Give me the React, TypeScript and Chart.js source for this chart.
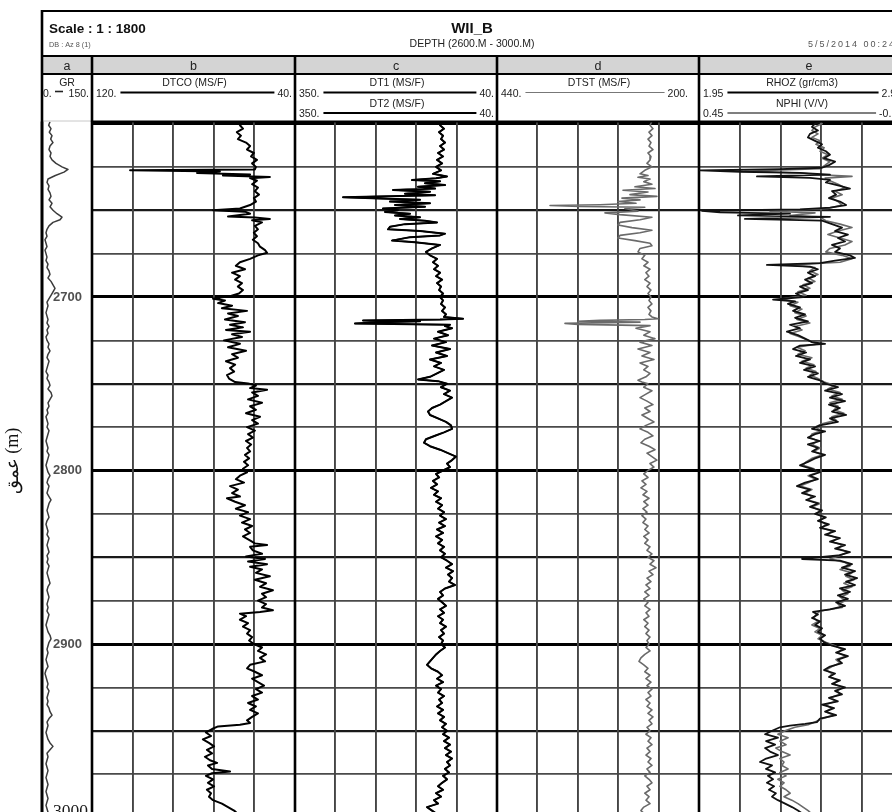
import { useEffect, useRef } from 'react';
import { Chart, registerables } from 'chart.js';

Chart.register(...registerables);

// ---------------- data ----------------
const depthTicks = [2600, 2625, 2650, 2675, 2700, 2725, 2750, 2775, 2800, 2825, 2850, 2875, 2900, 2925, 2950, 2975, 3000];
const depthLabelled = [2700, 2800, 2900];
const depthEndLabel = 3000;
const depthTop = 2598.85;
const depthBottom = 3007.2;

const grRange = [0, 150];
const dtcoRange = [40, 120];
const dtRange = [40, 350];
const dtstRange = [200, 440];
const rhozRange = [1.95, 2.95];
const nphiRange = [-0.15, 0.45];

const dtcoTicks = [120, 104, 88, 72, 56, 40];
const dtTicks = [350, 288, 226, 164, 102, 40];
const dtstTicks = [440, 392, 344, 296, 248, 200];
const rhozTicks = [1.95, 2.15, 2.35, 2.55, 2.75, 2.95];

// [depth (m), value]
const grLog: [number, number][] = [[2599,24],[2601,20],[2603,27],[2605,22],[2607,30],[2609,26],[2611,33],[2613,24],[2615,21],[2617,27],[2619,24],[2621,30],[2623,42],[2625,60],[2626.5,78],[2628,66],[2630,40],[2632,18],[2634,15],[2636,21],[2638,18],[2640,24],[2642,27],[2644,21],[2646,30],[2648,24],[2650,33],[2652,45],[2654,60],[2655.5,54],[2657,33],[2659,21],[2661,15],[2663,12],[2665,15],[2667,9],[2669,12],[2671,15],[2673,9],[2675,12],[2677,15],[2679,12],[2681,18],[2683,15],[2685,21],[2687,24],[2689,18],[2691,27],[2693,33],[2695,39],[2697,33],[2699,27],[2701,21],[2703,15],[2705,18],[2707,15],[2709,12],[2711,15],[2713,18],[2715,15],[2717,21],[2719,15],[2721,18],[2723,12],[2725,15],[2727,21],[2729,18],[2731,24],[2733,18],[2735,15],[2737,21],[2739,18],[2741,15],[2743,12],[2745,18],[2747,15],[2749,21],[2751,24],[2753,18],[2755,27],[2757,30],[2759,24],[2761,18],[2763,21],[2765,15],[2767,18],[2769,12],[2771,15],[2773,18],[2775,15],[2777,21],[2779,18],[2781,15],[2783,12],[2785,15],[2787,18],[2789,15],[2791,21],[2793,18],[2795,15],[2797,12],[2799,15],[2801,18],[2803,24],[2805,18],[2807,15],[2809,21],[2811,18],[2813,15],[2815,21],[2817,27],[2819,21],[2821,18],[2823,15],[2825,18],[2827,21],[2829,15],[2831,12],[2833,15],[2835,18],[2837,15],[2839,21],[2841,18],[2843,15],[2845,18],[2847,21],[2849,15],[2851,18],[2853,15],[2855,21],[2857,18],[2859,15],[2861,18],[2863,21],[2865,24],[2867,18],[2869,15],[2871,18],[2873,21],[2875,18],[2877,15],[2879,18],[2881,15],[2883,21],[2885,18],[2887,15],[2889,12],[2891,15],[2893,18],[2895,24],[2897,27],[2899,21],[2901,18],[2903,15],[2905,18],[2907,15],[2909,12],[2911,15],[2913,18],[2915,12],[2917,9],[2919,12],[2921,15],[2923,18],[2925,15],[2927,21],[2929,18],[2931,15],[2933,18],[2935,15],[2937,21],[2939,24],[2941,30],[2943,21],[2945,15],[2947,18],[2949,15],[2951,12],[2953,15],[2955,18],[2957,24],[2959,33],[2961,24],[2963,15],[2965,18],[2967,15],[2969,12],[2971,15],[2973,18],[2975,15],[2977,12],[2979,15],[2981,18],[2983,15],[2985,12],[2987,15],[2989,18],[2991,15],[2993,12],[2995,15],[2997,18],[2999,15],[3001,18],[3003,15]];

const dtcoLog: [number, number][] = [[2598.6,59.7],[2601,61.7],[2603,60.5],[2605,62.9],[2607,61.3],[2609,62.5],[2611,59.3],[2613,57.7],[2615,58.9],[2617,56.2],[2619,57.3],[2621,55.0],[2623,56.9],[2625,55.4],[2626.5,55.8],[2626.9,105],[2627.6,69.6],[2628.5,78.6],[2629.4,57.7],[2630,68.4],[2630.8,49.9],[2631.5,57.7],[2633,55.0],[2635,56.9],[2637,54.6],[2639,55.8],[2641,54.2],[2643,56.2],[2645,55.4],[2647,57.7],[2649,61.7],[2650,72.3],[2650.8,59.7],[2652,57.7],[2653.6,66.4],[2654.2,55.8],[2655,49.9],[2655.8,56.9],[2657,53.0],[2659,55.8],[2661,54.6],[2663,56.2],[2665,55.0],[2667,56.6],[2669,54.6],[2671,53.8],[2673,51.8],[2674.5,51.0],[2676,54.6],[2678,57.7],[2680,61.7],[2682,63.3],[2684,59.7],[2686,64.8],[2688,61.7],[2690,63.6],[2692,60.9],[2694,62.5],[2696,60.5],[2698,62.1],[2699.5,65.6],[2701,72.3],[2702,67.6],[2703.5,70.3],[2705,64.8],[2706.5,68.8],[2708,58.9],[2709.5,66.4],[2711,62.5],[2713,67.6],[2714.5,59.7],[2716,65.6],[2717.5,60.5],[2719,67.2],[2720,57.7],[2721.5,64.8],[2723,60.9],[2725,68.0],[2727,61.7],[2729,66.4],[2731,59.3],[2733,64.8],[2735,62.5],[2737,67.2],[2739,63.6],[2741,65.6],[2743,64.0],[2745,66.8],[2747,66.0],[2749,63.6],[2749.8,58.5],[2751,55.4],[2752.5,57.7],[2753.5,51.0],[2755,56.9],[2757,54.6],[2759,58.5],[2761,53.0],[2763,57.7],[2765,55.4],[2767,59.3],[2769,53.8],[2771,56.9],[2773,54.6],[2775,58.9],[2777,55.8],[2779,58.5],[2781,56.6],[2783,59.3],[2785,57.3],[2787,58.9],[2789,57.7],[2791,59.7],[2793,58.1],[2795,60.1],[2797,58.5],[2799,60.5],[2801,58.9],[2803,61.7],[2805,63.3],[2807,60.1],[2809,65.6],[2811,62.5],[2813,64.8],[2815,61.7],[2816,66.8],[2818,63.6],[2820,59.7],[2822,63.3],[2824,58.5],[2826,61.7],[2828,57.7],[2830,60.9],[2832,56.9],[2834,59.7],[2836,57.7],[2838,60.5],[2840,58.1],[2842,55.8],[2843,51.0],[2844,57.7],[2846,56.6],[2848,53.0],[2849.5,59.3],[2851,51.8],[2852.5,58.5],[2854,51.0],[2855.5,57.7],[2857,53.0],[2859,55.4],[2861,49.9],[2863,55.8],[2865,51.4],[2867,53.8],[2869,48.7],[2871,53.0],[2873,51.4],[2875,54.6],[2877,51.4],[2879,53.0],[2880.5,48.7],[2881.5,53.8],[2882.5,61.7],[2884,59.3],[2886,61.7],[2888,58.5],[2890,60.5],[2892,57.7],[2894,58.9],[2896,56.9],[2898,58.1],[2900,56.2],[2902,53.0],[2904,54.6],[2906,51.4],[2908,53.8],[2910,51.8],[2912,57.7],[2914,58.9],[2916,55.8],[2918,53.0],[2920,56.9],[2922,54.6],[2924,52.2],[2926,55.4],[2928,53.0],[2930,56.9],[2932,54.6],[2934,58.5],[2936,55.4],[2938,57.7],[2940,54.6],[2942,56.9],[2944,58.9],[2945.5,57.7],[2946.5,61.7],[2947.5,70.3],[2949,72.7],[2951,75.1],[2953,73.1],[2955,76.3],[2957,73.9],[2959,71.9],[2961,74.7],[2963,72.7],[2965,75.5],[2967,73.5],[2968.5,70.7],[2970,74.3],[2972,72.7],[2973.5,65.6],[2974.5,72.7],[2976,75.1],[2978,72.3],[2980,74.3],[2982,71.9],[2984,74.7],[2986,73.1],[2988,73.9],[2990,72.3],[2992,68.8],[2994,66.4],[2996,64.0],[2998,62.5],[3000,61.7],[3003,63.3]];

const dt1Log: [number, number][] = [[2598.6,122.8],[2601,127.4],[2603,121.3],[2605,128.9],[2607,122.8],[2609,125.9],[2611,119.8],[2613,127.4],[2615,121.3],[2617,130.5],[2619,122.8],[2621,132.0],[2623,124.3],[2625,133.5],[2627,125.9],[2629,138.2],[2630.5,116.7],[2631.5,133.5],[2632.6,170.4],[2633.3,127.4],[2634.5,150.5],[2635.5,119.8],[2636.5,161.2],[2637.5,135.1],[2638.3,199.6],[2639.3,142.8],[2640.5,181.2],[2641.3,135.1],[2642.5,276.3],[2643.3,219.5],[2644,158.1],[2645,204.2],[2646,142.8],[2647,196.5],[2648,150.5],[2649,215.0],[2650,191.9],[2651,211.9],[2652,173.5],[2653,196.5],[2654,158.1],[2655,188.8],[2656,150.5],[2657,132.0],[2658,181.2],[2659.5,204.2],[2661,207.2],[2662,158.1],[2663.5,119.8],[2664.5,127.4],[2665.5,173.5],[2667.5,201.1],[2668.5,165.8],[2670,127.4],[2672,139.7],[2674,149.0],[2676,142.8],[2678,132.0],[2680,138.2],[2682,130.5],[2684,136.6],[2686,127.4],[2688,133.5],[2690,124.3],[2692,132.0],[2694,125.9],[2696,128.9],[2698,122.8],[2700,127.4],[2702,122.8],[2704,125.9],[2706,119.8],[2708,124.3],[2710,118.3],[2711.5,121.3],[2712.5,92.1],[2713,127.4],[2713.5,245.6],[2714,158.1],[2714.5,219.5],[2715.3,258.0],[2716,112.1],[2716.8,119.8],[2718,109.0],[2720,130.5],[2722,115.2],[2724,136.6],[2726,118.3],[2728,139.7],[2730,112.1],[2732,133.5],[2734,116.7],[2736,142.8],[2738,125.9],[2740,136.6],[2742,121.3],[2744,132.0],[2746,142.8],[2747.5,161.2],[2748.5,130.5],[2750,116.7],[2752,125.9],[2754,112.1],[2756,121.3],[2758,109.0],[2760,118.3],[2762,127.4],[2764,139.7],[2766,145.9],[2768,142.8],[2770,130.5],[2772,118.3],[2774,110.6],[2776,109.0],[2778,121.3],[2780,135.1],[2782,149.0],[2784,152.0],[2786,142.8],[2788,127.4],[2790,115.2],[2792,102.9],[2794,109.0],[2796,116.7],[2798,112.1],[2800,122.8],[2802,133.5],[2804,128.9],[2806,138.2],[2808,132.0],[2810,141.3],[2812,130.5],[2814,136.6],[2816,125.9],[2818,133.5],[2820,124.3],[2822,130.5],[2824,121.3],[2826,127.4],[2828,118.3],[2830,128.9],[2832,119.8],[2834,132.0],[2836,122.8],[2838,133.5],[2840,124.3],[2842,130.5],[2844,121.3],[2846,127.4],[2848,119.8],[2850,125.9],[2852,116.7],[2854,109.0],[2856,118.3],[2858,107.5],[2860,115.2],[2862,109.0],[2864,113.6],[2866,104.4],[2868,119.8],[2870,127.4],[2872,122.8],[2874,130.5],[2876,124.3],[2878,118.3],[2880,127.4],[2882,121.3],[2884,130.5],[2886,122.8],[2888,127.4],[2890,118.3],[2892,125.9],[2894,121.3],[2896,128.9],[2898,122.8],[2900,125.9],[2902,119.8],[2904,127.4],[2906,133.5],[2908,138.2],[2910,142.8],[2912,147.4],[2914,141.3],[2916,130.5],[2918,124.3],[2920,132.0],[2922,122.8],[2924,133.5],[2926,125.9],[2928,130.5],[2930,121.3],[2932,128.9],[2934,124.3],[2936,132.0],[2938,122.8],[2940,130.5],[2942,121.3],[2944,127.4],[2946,118.3],[2948,124.3],[2950,116.7],[2952,122.8],[2954,113.6],[2956,121.3],[2958,112.1],[2960,119.8],[2962,110.6],[2964,118.3],[2966,109.0],[2968,116.7],[2970,112.1],[2972,119.8],[2974,113.6],[2976,122.8],[2978,116.7],[2980,124.3],[2982,130.5],[2984,122.8],[2986,133.5],[2988,125.9],[2990,136.6],[2992,130.5],[2994,147.4],[2996,139.7],[2998,132.0],[3000,136.6],[3003,130.5]];

// DT2 reads on top of DT1 everywhere within drawing precision
const dt2Log: [number, number][] = dt1Log;

const dtstLog: [number, number][] = [[2598.6,255.9],[2601,258.2],[2603,254.7],[2605,259.4],[2607,255.9],[2609,260.6],[2611,257.1],[2613,259.4],[2615,254.7],[2617,260.6],[2619,257.1],[2621,258.2],[2623,261.8],[2625,255.9],[2627,264.4],[2629,270.1],[2630,260.6],[2631,272.5],[2632,258.2],[2633.5,265.6],[2635,255.9],[2636.5,276.1],[2637.5,252.3],[2638.5,290.3],[2639.5,260.6],[2641,282.0],[2642,250.0],[2643,291.5],[2644,270.1],[2645,296.3],[2646,274.9],[2646.8,317.6],[2647.3,377.0],[2647.8,341.4],[2648.3,264.4],[2649,288.0],[2650.5,272.5],[2651.5,311.7],[2652.5,293.9],[2654,255.9],[2655.5,270.1],[2657,293.9],[2658.5,296.3],[2660,279.6],[2661.5,255.9],[2663,270.1],[2664.5,293.9],[2666,296.3],[2667.5,276.1],[2669,258.2],[2670.5,255.9],[2672,270.1],[2674,272.5],[2676,264.4],[2678,267.8],[2680,260.6],[2682,265.6],[2684,258.2],[2686,263.0],[2688,259.4],[2690,264.4],[2692,258.2],[2694,261.8],[2696,257.1],[2698,260.6],[2700,257.1],[2702,259.4],[2704,255.9],[2706,260.6],[2708,257.1],[2710,259.4],[2711.5,255.9],[2712.5,248.7],[2713,264.4],[2713.5,317.6],[2714,343.8],[2714.5,270.1],[2715.2,359.2],[2715.8,343.8],[2716.5,258.2],[2718,274.9],[2720,258.2],[2722,265.6],[2724,252.3],[2726,270.1],[2728,255.9],[2730,272.5],[2732,258.2],[2734,267.8],[2736,253.5],[2738,270.1],[2740,260.6],[2742,265.6],[2744,258.2],[2746,263.0],[2748,272.5],[2749,267.8],[2750,260.6],[2752,265.6],[2754,255.9],[2756,263.0],[2758,270.1],[2760,261.8],[2762,254.7],[2764,264.4],[2766,258.2],[2768,267.8],[2770,260.6],[2772,253.5],[2774,263.0],[2776,270.1],[2778,260.6],[2780,254.7],[2782,264.4],[2784,269.0],[2786,259.4],[2788,252.3],[2790,261.8],[2792,255.9],[2794,250.0],[2796,258.2],[2798,253.5],[2800,260.6],[2802,265.6],[2804,260.6],[2806,267.8],[2808,263.0],[2810,269.0],[2812,261.8],[2814,266.6],[2816,259.4],[2818,265.6],[2820,260.6],[2822,266.6],[2824,261.8],[2826,267.8],[2828,263.0],[2830,266.6],[2832,260.6],[2834,264.4],[2836,259.4],[2838,265.6],[2840,260.6],[2842,264.4],[2844,258.2],[2846,261.8],[2848,255.9],[2850,260.6],[2852,253.5],[2854,258.2],[2856,251.1],[2858,259.4],[2860,254.7],[2862,261.8],[2864,257.1],[2866,263.0],[2868,258.2],[2870,264.4],[2872,259.4],[2874,265.6],[2876,260.6],[2878,264.4],[2880,258.2],[2882,263.0],[2884,259.4],[2886,265.6],[2888,260.6],[2890,264.4],[2892,259.4],[2894,263.0],[2896,258.2],[2898,261.8],[2900,259.4],[2902,263.0],[2904,258.2],[2906,264.4],[2908,269.0],[2910,271.3],[2912,265.6],[2914,260.6],[2916,264.4],[2918,258.2],[2920,263.0],[2922,257.1],[2924,261.8],[2926,255.9],[2928,260.6],[2930,257.1],[2932,263.0],[2934,258.2],[2936,261.8],[2938,255.9],[2940,260.6],[2942,254.7],[2944,259.4],[2946,255.9],[2948,261.8],[2950,258.2],[2952,263.0],[2954,257.1],[2956,260.6],[2958,255.9],[2960,261.8],[2962,258.2],[2964,263.0],[2966,257.1],[2968,260.6],[2970,255.9],[2972,261.8],[2974,258.2],[2976,264.4],[2978,259.4],[2980,255.9],[2982,261.8],[2984,258.2],[2986,264.4],[2988,259.4],[2990,263.0],[2992,258.2],[2994,265.6],[2996,269.0],[2998,264.4],[3000,260.6],[3003,264.4]];

const rhozLog: [number, number][] = [[2598.6,2.553],[2600,2.519],[2602,2.504],[2604,2.533],[2606,2.494],[2608,2.484],[2610,2.519],[2612,2.553],[2614,2.533],[2616,2.572],[2618,2.592],[2620,2.563],[2622,2.617],[2624,2.587],[2625.5,2.553],[2626.3,2.347],[2627,1.955],[2627.8,2.151],[2628.5,2.445],[2629.5,2.592],[2630.5,2.234],[2631.3,2.494],[2632.5,2.592],[2634,2.572],[2636,2.641],[2637.5,2.690],[2639,2.602],[2641,2.622],[2643,2.587],[2645,2.641],[2647,2.671],[2648.5,2.592],[2649.5,2.445],[2650.3,1.965],[2651.2,2.053],[2652,2.396],[2653,2.141],[2653.8,2.592],[2655,2.175],[2656,2.553],[2658,2.602],[2660,2.651],[2662,2.617],[2664,2.680],[2666,2.631],[2668,2.666],[2670,2.602],[2672,2.641],[2674,2.617],[2676,2.690],[2677.5,2.715],[2679,2.617],[2680.5,2.543],[2681.5,2.283],[2682.5,2.494],[2684,2.533],[2686,2.484],[2688,2.519],[2690,2.470],[2692,2.504],[2694,2.445],[2696,2.484],[2698,2.425],[2700,2.460],[2701.5,2.313],[2702.5,2.421],[2704,2.386],[2706,2.445],[2708,2.411],[2710,2.470],[2712,2.421],[2714,2.484],[2716,2.396],[2718,2.445],[2720,2.381],[2722,2.435],[2724,2.470],[2726,2.504],[2727,2.568],[2728,2.445],[2730,2.411],[2732,2.475],[2734,2.425],[2736,2.494],[2738,2.445],[2740,2.519],[2742,2.465],[2744,2.533],[2746,2.484],[2748,2.543],[2750,2.572],[2752,2.631],[2754,2.568],[2756,2.651],[2758,2.592],[2760,2.666],[2762,2.587],[2764,2.641],[2766,2.602],[2768,2.671],[2770,2.592],[2772,2.631],[2774,2.543],[2776,2.504],[2777.5,2.568],[2779,2.519],[2781,2.484],[2783,2.543],[2785,2.484],[2787,2.533],[2789,2.504],[2791,2.568],[2793,2.519],[2795,2.484],[2797,2.445],[2799,2.504],[2801,2.543],[2803,2.494],[2805,2.533],[2807,2.470],[2809,2.430],[2811,2.494],[2813,2.455],[2815,2.519],[2817,2.475],[2819,2.533],[2821,2.494],[2823,2.553],[2825,2.519],[2827,2.572],[2829,2.533],[2831,2.587],[2833,2.543],[2835,2.617],[2837,2.568],[2839,2.641],[2841,2.592],[2843,2.666],[2845,2.617],[2847,2.690],[2849,2.631],[2851,2.455],[2852,2.641],[2854,2.700],[2856,2.651],[2858,2.715],[2860,2.666],[2862,2.725],[2864,2.671],[2866,2.715],[2868,2.641],[2870,2.690],[2872,2.631],[2874,2.680],[2876,2.622],[2878,2.666],[2880,2.592],[2881.5,2.509],[2883,2.533],[2885,2.504],[2887,2.543],[2889,2.519],[2891,2.553],[2893,2.533],[2895,2.568],[2897,2.543],[2899,2.563],[2901,2.602],[2903,2.666],[2905,2.622],[2907,2.680],[2909,2.631],[2911,2.651],[2913,2.592],[2915,2.563],[2917,2.617],[2919,2.587],[2921,2.641],[2923,2.602],[2925,2.666],[2927,2.617],[2929,2.651],[2931,2.587],[2933,2.631],[2935,2.553],[2937,2.612],[2939,2.568],[2941,2.622],[2943,2.543],[2945,2.528],[2946,2.470],[2947,2.396],[2948,2.347],[2950,2.308],[2952,2.274],[2954,2.337],[2956,2.279],[2958,2.323],[2960,2.274],[2962,2.298],[2964,2.337],[2966,2.279],[2968,2.249],[2970,2.308],[2972,2.278],[2974,2.323],[2976,2.288],[2978,2.313],[2980,2.283],[2982,2.318],[2984,2.293],[2986,2.327],[2988,2.308],[2990,2.337],[2992,2.372],[2994,2.406],[2996,2.435],[2998,2.460],[3000,2.484],[3003,2.504]];

const nphiLog: [number, number][] = [[2598.6,0.100],[2600,0.088],[2602,0.109],[2604,0.118],[2606,0.100],[2608,0.118],[2610,0.094],[2612,0.106],[2614,0.082],[2616,0.094],[2618,0.071],[2620,0.088],[2622,0.065],[2624,0.079],[2626,0.094],[2627.5,0.315],[2628.5,0.153],[2629.5,0.094],[2630.5,0.000],[2631.5,0.079],[2633,0.065],[2635,0.041],[2637,0.021],[2639,0.050],[2641,0.029],[2643,0.059],[2645,0.041],[2647,0.029],[2649,0.071],[2650.5,0.241],[2651.5,0.109],[2653,0.182],[2654,0.094],[2656,0.077],[2658,0.035],[2660,0.000],[2662,0.041],[2664,0.071],[2666,0.035],[2668,0.000],[2670,0.021],[2672,0.065],[2674,0.077],[2676,0.029],[2678,0.000],[2680,0.035],[2681.5,0.182],[2683,0.109],[2685,0.124],[2687,0.100],[2689,0.129],[2691,0.109],[2693,0.144],[2695,0.124],[2697,0.159],[2699,0.135],[2701,0.206],[2703,0.159],[2705,0.182],[2707,0.147],[2709,0.168],[2711,0.135],[2713,0.162],[2715,0.124],[2717,0.168],[2719,0.147],[2721,0.182],[2723,0.153],[2725,0.129],[2727,0.100],[2729,0.162],[2731,0.138],[2733,0.159],[2735,0.118],[2737,0.147],[2739,0.112],[2741,0.135],[2743,0.106],[2745,0.124],[2747,0.100],[2749,0.082],[2751,0.050],[2753,0.071],[2755,0.035],[2757,0.059],[2759,0.029],[2761,0.065],[2763,0.041],[2765,0.053],[2767,0.024],[2769,0.059],[2771,0.047],[2773,0.088],[2775,0.109],[2777,0.088],[2779,0.118],[2781,0.124],[2783,0.100],[2785,0.118],[2787,0.094],[2789,0.112],[2791,0.088],[2793,0.118],[2795,0.135],[2797,0.144],[2799,0.112],[2801,0.100],[2803,0.129],[2805,0.106],[2807,0.129],[2809,0.153],[2811,0.118],[2813,0.138],[2815,0.118],[2817,0.129],[2819,0.094],[2821,0.118],[2823,0.094],[2825,0.100],[2827,0.082],[2829,0.094],[2831,0.077],[2833,0.088],[2835,0.059],[2837,0.071],[2839,0.041],[2841,0.059],[2843,0.029],[2845,0.041],[2847,0.012],[2849,0.035],[2851,0.065],[2853,0.021],[2855,0.006],[2857,0.035],[2859,0.000],[2861,0.018],[2863,-0.006],[2865,0.024],[2867,0.000],[2869,0.029],[2871,0.012],[2873,0.035],[2875,0.018],[2877,0.041],[2879,0.029],[2881,0.094],[2883,0.106],[2885,0.112],[2887,0.100],[2889,0.118],[2891,0.094],[2893,0.109],[2895,0.088],[2897,0.100],[2899,0.077],[2901,0.050],[2903,0.029],[2905,0.041],[2907,0.018],[2909,0.047],[2911,0.035],[2913,0.059],[2915,0.077],[2917,0.059],[2919,0.065],[2921,0.041],[2923,0.053],[2925,0.029],[2927,0.044],[2929,0.035],[2931,0.065],[2933,0.047],[2935,0.079],[2937,0.059],[2939,0.077],[2941,0.053],[2943,0.088],[2945,0.109],[2946.5,0.129],[2948,0.168],[2950,0.197],[2952,0.218],[2954,0.188],[2956,0.212],[2958,0.194],[2960,0.224],[2962,0.206],[2964,0.182],[2966,0.212],[2968,0.200],[2970,0.206],[2972,0.188],[2974,0.212],[2976,0.194],[2978,0.218],[2980,0.200],[2982,0.212],[2984,0.194],[2986,0.182],[2988,0.200],[2990,0.177],[2992,0.159],[2994,0.144],[2996,0.129],[2998,0.118],[3000,0.106],[3003,0.094]];

// ---------------- layout / style (not data) ----------------
const trackWidth = { a: 50, b: 203, c: 202, d: 202, e: 204 };
const SANS = 'Arial, "Liberation Sans", Helvetica, sans-serif';
const SERIF = '"Liberation Serif", "Times New Roman", Times, serif';

const headerCurves = [
  { track: 1, row: 0, name: 'DTCO (MS/F)', lo: '120.', hi: '40.', color: '#000', width: 2, hiPad: 3 },
  { track: 2, row: 0, name: 'DT1 (MS/F)', lo: '350.', hi: '40.', color: '#000', width: 2, hiPad: 3 },
  { track: 2, row: 1, name: 'DT2 (MS/F)', lo: '350.', hi: '40.', color: '#000', width: 2, hiPad: 3 },
  { track: 3, row: 0, name: 'DTST (MS/F)', lo: '440.', hi: '200.', color: '#777', width: 1.2, hiPad: 11 },
  { track: 4, row: 0, name: 'RHOZ (gr/cm3)', lo: '1.95', hi: '2.95', color: '#000', width: 2, hiPad: 1 },
  { track: 4, row: 1, name: 'NPHI (V/V)', lo: '0.45', hi: '-0.15', color: '#555', width: 1.6, hiPad: 0 },
];
const trackLetters = ['a', 'b', 'c', 'd', 'e'];

const zeroHeight = (s: any) => { s.height = 0; };
const fixedTicks = (vals: number[]) => (s: any) => { s.ticks = vals.map((v) => ({ value: v })); };

function trackScale(range: number[], reverse: boolean, weight: number, ticks: number[] | null) {
  return {
    type: 'linear',
    axis: 'x',
    position: 'bottom',
    stack: 'tracks',
    stackWeight: weight,
    min: range[0],
    max: range[1],
    reverse,
    grid: ticks ? { color: '#454545', lineWidth: 1.9, drawTicks: false } : { display: false },
    ticks: { display: false },
    border: { display: false },
    afterFit: zeroHeight,
    ...(ticks ? { afterBuildTicks: fixedTicks(ticks) } : {}),
  };
}

function overlayScale(range: number[], reverse: boolean, weight: number, order: number) {
  return {
    type: 'linear',
    axis: 'x',
    position: 'top',
    stack: 'overlay',
    stackWeight: weight,
    weight: order,
    min: range[0],
    max: range[1],
    reverse,
    grid: { display: false },
    ticks: { display: false },
    border: { display: false },
    afterFit: zeroHeight,
  };
}

const curve = (label: string, log: [number, number][], xAxisID: string, color: string, width: number) => ({
  label,
  data: log.map(([d, v]) => ({ x: v, y: d })),
  xAxisID,
  yAxisID: 'y',
  showLine: true,
  borderColor: color,
  backgroundColor: color,
  borderWidth: width,
  pointRadius: 0,
  pointHoverRadius: 0,
  tension: 0,
  fill: false,
  borderJoinStyle: 'round',
});

const frame = {
  id: 'wellLogFrame',
  beforeDatasetsDraw(chart: any) {
    const { ctx, chartArea: ca, scales } = chart;
    const edges = [scales.xa.left, scales.xb.left, scales.xc.left, scales.xd.left, scales.xe.left];
    ctx.save();
    ctx.fillStyle = '#fff';
    ctx.fillRect(scales.xa.left, ca.top, scales.xa.right - scales.xa.left, ca.bottom - ca.top);
    ctx.strokeStyle = '#000';
    ctx.lineWidth = 2.6;
    for (const x of edges) {
      ctx.beginPath();
      ctx.moveTo(x, ca.top);
      ctx.lineTo(x, ca.bottom);
      ctx.stroke();
    }
    ctx.restore();
  },
  afterDraw(chart: any) {
    const { ctx, scales } = chart;
    const W = chart.width;
    const H = chart.height;
    const edges = [scales.xa.left, scales.xb.left, scales.xc.left, scales.xd.left, scales.xe.left, scales.xe.right];
    const L = edges[0];
    const hline = (x1: number, x2: number, y: number, w: number, c = '#000') => {
      ctx.strokeStyle = c; ctx.lineWidth = w; ctx.beginPath(); ctx.moveTo(x1, y); ctx.lineTo(x2, y); ctx.stroke();
    };
    const vline = (x: number, y1: number, y2: number, w: number) => {
      ctx.strokeStyle = '#000'; ctx.lineWidth = w; ctx.beginPath(); ctx.moveTo(x, y1); ctx.lineTo(x, y2); ctx.stroke();
    };
    const text = (s: string, x: number, y: number, size: number, align: CanvasTextAlign = 'left', bold = false, color = '#222') => {
      ctx.font = `${bold ? 'bold ' : ''}${size}px ${SANS}`;
      ctx.fillStyle = color;
      ctx.textAlign = align;
      ctx.textBaseline = 'alphabetic';
      ctx.fillText(s, x, y);
      return ctx.measureText(s).width;
    };
    ctx.save();

    // bottom depth label (larger serif, sits just above its line)
    ctx.font = `17.5px ${SERIF}`;
    ctx.fillStyle = '#1a1a1a';
    ctx.textAlign = 'left';
    ctx.textBaseline = 'alphabetic';
    ctx.fillText(String(depthEndLabel), L + 11, scales.y.getPixelForValue(depthEndLabel) - 2);

    ctx.fillStyle = '#fff';
    ctx.fillRect(L, 11, W - L, 110);
    // letter band
    ctx.fillStyle = '#d4d4d4';
    ctx.fillRect(L, 56, W - L, 18);
    hline(L, W, 11, 2);
    hline(L, W, 56, 2);
    hline(L, W, 74, 2);
    hline(L, edges[1], 121, 1, '#c8c8c8');
    hline(edges[1], W, 121.5, 2.2);
    vline(L, 10, H, 2.6);
    for (let i = 1; i <= 4; i++) vline(edges[i], 56, 122, 2.6);

    // title block
    text('Scale : 1 : 1800', 49, 33, 13.5, 'left', true, '#111');
    text('DB : Az 8 (1)', 49, 47, 7.3, 'left', false, '#555');
    text('WII_B', 472, 33, 15, 'center', true, '#111');
    text('DEPTH (2600.M - 3000.M)', 472, 47, 10.5, 'center', false, '#222');
    (ctx as any).letterSpacing = '2px';
    text('5/5/2014 00:24:31', 808, 47, 9, 'left', false, '#555');
    (ctx as any).letterSpacing = '0px';

    // track letters
    trackLetters.forEach((t, i) => {
      const cx = i === 4 ? (edges[i] + edges[i + 1]) / 2 + 8 : (edges[i] + edges[i + 1]) / 2;
      text(t, cx, 70, 12.5, 'center', false, '#222');
    });

    // GR header
    const aMid = (edges[0] + edges[1]) / 2;
    text('GR', aMid, 86, 10.5, 'center');
    text('0.', L + 1, 96.5, 10.5, 'left');
    hline(L + 13, L + 21, 91.5, 1.6, '#222');
    text('150.', edges[1] - 3, 96.5, 10.5, 'right');

    // curve headers
    for (const h of headerCurves) {
      const left = edges[h.track];
      const right = edges[h.track + 1];
      const base = h.row === 0 ? 86 : 106.5;
      const ly = h.row === 0 ? 92.5 : 113;
      const ny = h.row === 0 ? 96.5 : 117;
      text(h.name, (left + right) / 2 + 1, base, 10.5, 'center');
      const loW = text(h.lo, left + 4, ny, 10.5, 'left');
      const hiW = text(h.hi, right - h.hiPad, ny, 10.5, 'right');
      hline(left + 4 + loW + 4, right - h.hiPad - hiW - 3, ly, h.width, h.color);
    }

    // depth axis title
    ctx.translate(13, 461);
    ctx.rotate(-Math.PI / 2);
    ctx.font = `18px ${SERIF}`;
    ctx.fillStyle = '#111';
    ctx.textAlign = 'center';
    ctx.textBaseline = 'middle';
    ctx.fillText('عمق (m)', 0, 0);
    ctx.restore();
  },
};

export default function App() {
  const ref = useRef<HTMLCanvasElement>(null);
  useEffect(() => {
    if (!ref.current) return;
    const chart = new Chart(ref.current, {
      type: 'scatter',
      data: {
        datasets: [
          curve('GR', grLog, 'xa', '#3c3c3c', 1.5),
          curve('DTCO', dtcoLog, 'xb', '#000', 2),
          curve('DT1', dt1Log, 'xc', '#000', 2),
          curve('DT2', dt2Log, 'xc', '#111', 1.5),
          curve('DTST', dtstLog, 'xd', '#6a6a6a', 1.6),
          curve('RHOZ', rhozLog, 'xe', '#111', 1.8),
          curve('NPHI', nphiLog, 'xn', '#6a6a6a', 1.6),
        ] as any,
      },
      options: {
        animation: false,
        responsive: false,
        devicePixelRatio: 1,
        events: [],
        layout: { padding: { top: 121.5, right: 7, bottom: 0, left: 0 }, autoPadding: false },
        plugins: { legend: { display: false }, tooltip: { enabled: false }, title: { display: false } },
        scales: {
          y: {
            type: 'linear',
            position: 'left',
            min: depthTop,
            max: depthBottom,
            reverse: true,
            afterFit: (s: any) => { s.width = 42; s.paddingTop = 0; s.paddingBottom = 0; },
            afterBuildTicks: fixedTicks(depthTicks),
            border: { display: false },
            grid: {
              drawTicks: false,
              color: (c: any) => (c.tick.value % 100 === 0 ? '#000' : c.tick.value % 50 === 0 ? '#1a1a1a' : '#4a4a4a'),
              lineWidth: (c: any) => (c.tick.value % 100 === 0 ? 3 : c.tick.value % 50 === 0 ? 2.3 : 1.7),
            },
            ticks: {
              mirror: true,
              padding: 11,
              z: 1,
              color: '#505050',
              font: { family: SANS, size: 13, weight: 'bold' },
              callback: (v: any) => (depthLabelled.includes(Number(v)) ? String(v) : ''),
            },
          },
          xa: trackScale(grRange, false, trackWidth.a, null),
          xb: trackScale(dtcoRange, true, trackWidth.b, dtcoTicks),
          xc: trackScale(dtRange, true, trackWidth.c, dtTicks),
          xd: trackScale(dtstRange, true, trackWidth.d, dtstTicks),
          xe: trackScale(rhozRange, false, trackWidth.e, rhozTicks),
          xn: overlayScale(nphiRange, true, trackWidth.e, 0),
          xpad: overlayScale([0, 1], false, trackWidth.a + trackWidth.b + trackWidth.c + trackWidth.d, 1),
        } as any,
      },
      plugins: [frame],
    } as any);
    return () => chart.destroy();
  }, []);
  return (
    <div style={{ position: 'fixed', left: 0, top: 0, width: 892, height: 812, overflow: 'hidden', background: '#fff' }}>
      <canvas ref={ref} width={910} height={830} style={{ display: 'block', width: 910, height: 830 }} />
    </div>
  );
}
